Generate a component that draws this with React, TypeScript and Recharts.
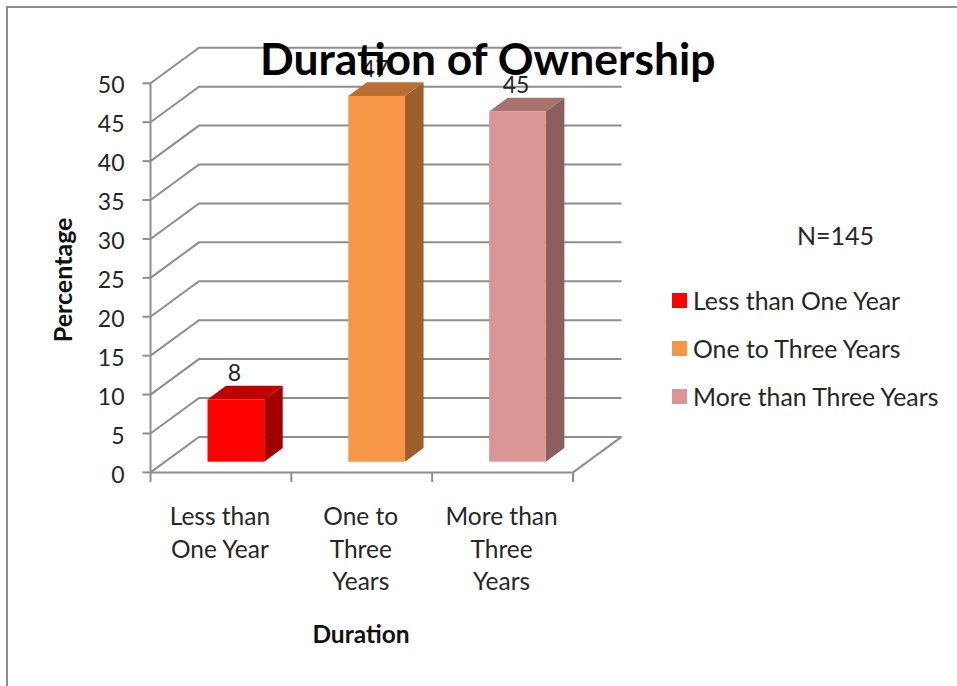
import React from "react";
import { BarChart, Bar, XAxis, YAxis, CartesianGrid, LabelList, Legend, Label } from "recharts";

const categories = ["Less than One Year", "One to Three Years", "More than Three Years"];
const percentages = [8, 47, 45];
const tickLabelLines = [
  ["Less than", "One Year"],
  ["One to", "Three", "Years"],
  ["More than", "Three", "Years"],
];
const yTicks = [0, 5, 10, 15, 20, 25, 30, 35, 40, 45, 50];

const frontColors = ["#ff0000", "#f79646", "#d99694"];
const topColors = ["#c00000", "#b96f33", "#a87270"];
const sideColors = ["#a00000", "#9c5f2c", "#8c5f5e"];

const rows = categories.map((name, i) => ({ name, value: percentages[i], index: i }));

const FONT = "Lato, sans-serif";
const TEXT = "#262626";
const LINE = "#8e8e8e";

// plot box of the front plane
const PLOT_LEFT = 150.5;
const PLOT_RIGHT = 573;
const PLOT_TOP = 83.3;
const PLOT_BOTTOM = 472.4;
const BAND = (PLOT_RIGHT - PLOT_LEFT) / categories.length;

// depth of the walls and of the bars
const WALL_DX = 48.5;
const WALL_DY = -35.5;
const BAR_DX = 18.5;
const BAR_DY = -13.8;
const BAR_SHIFT_X = 15;
const BAR_SHIFT_Y = -10.7;

// each gridline runs along the side wall and then across the back wall
function WallLine(props: any) {
  const { x1, x2, y1 } = props;
  const isFloor = Math.abs(y1 - PLOT_BOTTOM) < 1;
  return (
    <g>
      <polyline
        points={`${x1},${y1} ${x1 + WALL_DX},${y1 + WALL_DY} ${x2 + WALL_DX},${y1 + WALL_DY}`}
        fill="none"
        stroke={LINE}
        strokeWidth={2}
      />
      {isFloor && (
        <line x1={x2} y1={y1} x2={x2 + WALL_DX} y2={y1 + WALL_DY} stroke={LINE} strokeWidth={2} />
      )}
    </g>
  );
}

function BoxBar(props: any) {
  const { x, y, width, height, index } = props;
  const left = x + BAR_SHIFT_X;
  const right = left + width;
  const top = y + BAR_SHIFT_Y;
  const bottom = top + height;
  return (
    <g>
      <polygon
        points={`${right},${top} ${right + BAR_DX},${top + BAR_DY} ${right + BAR_DX},${bottom + BAR_DY} ${right},${bottom}`}
        fill={sideColors[index]}
      />
      <polygon
        points={`${left},${top} ${left + BAR_DX},${top + BAR_DY} ${right + BAR_DX},${top + BAR_DY} ${right},${top}`}
        fill={topColors[index]}
      />
      <rect x={left} y={top} width={width} height={height} fill={frontColors[index]} />
    </g>
  );
}

function ValueLabel(props: any) {
  const { x, y, width, value } = props;
  return (
    <text
      x={x + BAR_SHIFT_X + width / 2 - 1.5}
      y={y + BAR_SHIFT_Y + BAR_DY - 5}
      textAnchor="middle"
      fontFamily={FONT}
      fontSize={23}
      fill={TEXT}
    >
      {value}
    </text>
  );
}

// tick marks sit on the band edges, labels stay centred under the band
function CategoryTick(props: any) {
  const { x, index } = props;
  const edge = x - BAND / 2;
  const lines = tickLabelLines[index] || [];
  const tickTop = PLOT_BOTTOM;
  const tickBottom = PLOT_BOTTOM + 9.5;
  return (
    <g>
      <line x1={edge} y1={tickTop} x2={edge} y2={tickBottom} stroke={LINE} strokeWidth={2} />
      {index === categories.length - 1 && (
        <line x1={edge + BAND} y1={tickTop} x2={edge + BAND} y2={tickBottom} stroke={LINE} strokeWidth={2} />
      )}
      <text textAnchor="middle" fontFamily={FONT} fontSize={24.5} fill={TEXT}>
        {lines.map((line: string, i: number) => (
          <tspan key={line} x={x - 1} y={PLOT_BOTTOM + 53 + i * 32.5}>
            {line}
          </tspan>
        ))}
      </text>
    </g>
  );
}

function LegendList() {
  return (
    <div style={{ fontFamily: FONT, fontSize: 24.8, color: TEXT }}>
      {categories.map((name, i) => (
        <div key={name} style={{ display: "flex", alignItems: "center", height: 48, whiteSpace: "nowrap" }}>
          <span style={{ width: 15, height: 15, background: frontColors[i], marginRight: 6 }} />
          {name}
        </div>
      ))}
    </div>
  );
}

export default function App() {
  return (
    <div style={{ position: "absolute", left: 0, top: 0, width: 957, height: 686, overflow: "hidden", background: "#fff" }}>
      <div style={{ position: "absolute", left: 6, top: 6, width: 960, height: 690, borderTop: `2px solid ${LINE}`, borderLeft: `2px solid ${LINE}` }} />
      <BarChart
        width={957}
        height={686}
        data={rows}
        margin={{ left: PLOT_LEFT - 60, right: 957 - PLOT_RIGHT, top: PLOT_TOP, bottom: 686 - PLOT_BOTTOM - 30 }}
        barSize={56.7}
      >
        <CartesianGrid horizontal={WallLine} vertical={false} />
        <XAxis
          dataKey="name"
          interval={0}
          height={30}
          tickLine={false}
          axisLine={{ stroke: LINE, strokeWidth: 2 }}
          tick={CategoryTick}
        />
        <YAxis
          domain={[0, 50]}
          ticks={yTicks}
          interval={0}
          width={60}
          tickSize={8}
          tickMargin={18}
          tickLine={{ stroke: LINE, strokeWidth: 2 }}
          axisLine={{ stroke: LINE, strokeWidth: 2 }}
          tick={{ fontFamily: FONT, fontSize: 23, fill: TEXT, dy: 2 }}
        >
          <Label
            value="Percentage"
            angle={-90}
            position="left"
            offset={27}
            dy={2}
            style={{ fontFamily: FONT, fontSize: 25, fontWeight: 700, fill: "#111", textAnchor: "middle" }}
          />
        </YAxis>
        <Bar dataKey="value" shape={BoxBar} isAnimationActive={false}>
          <LabelList dataKey="value" content={ValueLabel} />
        </Bar>
        <Legend
          layout="vertical"
          align="center"
          verticalAlign="middle"
          content={LegendList}
          wrapperStyle={{ left: 672, top: 276, width: 285, height: 144 }}
        />
      </BarChart>
      <div style={{ position: "absolute", left: 0, top: 620, width: 722, textAlign: "center", fontFamily: FONT, fontSize: 24.5, fontWeight: 700, color: "#111", lineHeight: "28px" }}>
        Duration
      </div>
      <div style={{ position: "absolute", left: 260, top: 33, fontFamily: FONT, fontSize: 44.4, fontWeight: 700, color: "#000", lineHeight: "50px", whiteSpace: "nowrap" }}>
        Duration of Ownership
      </div>
      <div style={{ position: "absolute", left: 797, top: 220, fontFamily: FONT, fontSize: 25, color: TEXT, lineHeight: "30px" }}>
        N=145
      </div>
    </div>
  );
}
